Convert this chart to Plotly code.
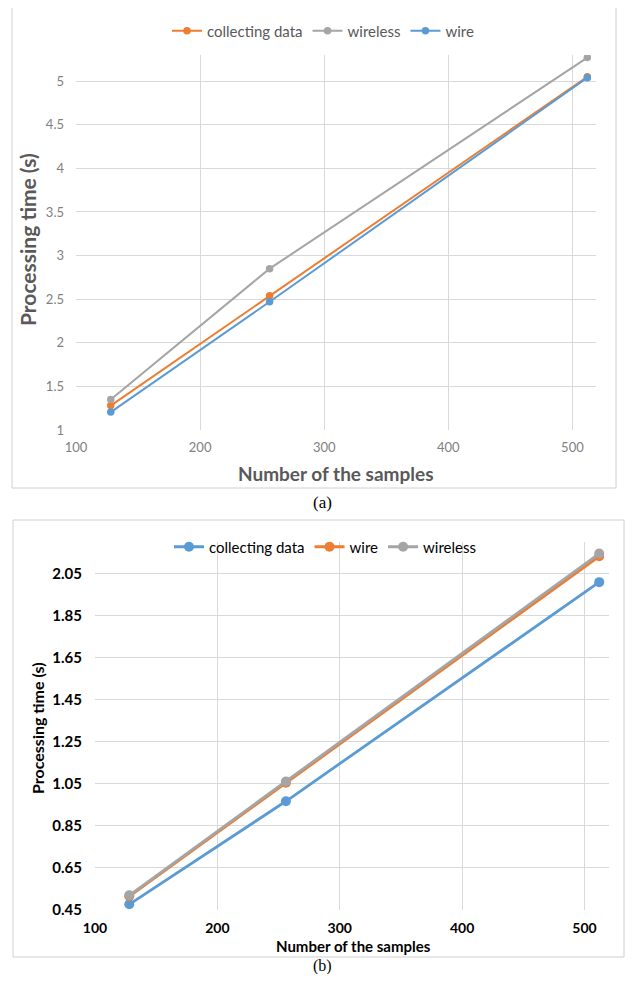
import plotly.graph_objects as go

# The page body keeps the browser's default 8px margin, so the figure is
# sized to fit the 633x982 window inside it; positions below are window pixels.
WIN_W, WIN_H = 633, 982
OFF = 8
FW, FH = WIN_W - 2 * OFF, WIN_H - 2 * OFF

# ---------------- data ----------------
samples = [128, 256, 512]

# chart (a)
a_collecting = [1.28, 2.54, 5.05]
a_wireless = [1.35, 2.85, 5.27]
a_wire = [1.205, 2.47, 5.04]

# chart (b)
b_collecting = [0.477, 0.967, 2.009]
b_wire = [0.515, 1.055, 2.132]
b_wireless = [0.52, 1.061, 2.145]

a_yticks = [1, 1.5, 2, 2.5, 3, 3.5, 4, 4.5, 5]
a_ytick_text = ["1", "1.5", "2", "2.5", "3", "3.5", "4", "4.5", "5"]
b_yticks = [0.45, 0.65, 0.85, 1.05, 1.25, 1.45, 1.65, 1.85, 2.05]
b_ytick_text = ["0.45", "0.65", "0.85", "1.05", "1.25", "1.45", "1.65", "1.85", "2.05"]
xticks = [100, 200, 300, 400, 500]

ORANGE = "#ED7D31"
GRAY = "#A5A5A5"
BLUE = "#5B9BD5"
FONT = "Lato"


def px_x(p):
    return (p - OFF) / FW


def px_y(p):
    return 1 - (p - OFF) / FH


fig = go.Figure()

# chart (a) traces
for name, vals, col in [("collecting data", a_collecting, ORANGE),
                        ("wireless", a_wireless, GRAY),
                        ("wire", a_wire, BLUE)]:
    fig.add_trace(go.Scatter(x=samples, y=vals, name=name, mode="lines+markers",
                             line=dict(color=col, width=2),
                             marker=dict(color=col, size=7.5),
                             xaxis="x", yaxis="y", legend="legend"))

# chart (b) traces
for name, vals, col in [("collecting data", b_collecting, BLUE),
                        ("wire", b_wire, ORANGE),
                        ("wireless", b_wireless, GRAY)]:
    fig.add_trace(go.Scatter(x=samples, y=vals, name=name, mode="lines+markers",
                             line=dict(color=col, width=2.8),
                             marker=dict(color=col, size=10),
                             xaxis="x2", yaxis="y2", legend="legend2"))

grid = "#D9D9D9"

fig.update_layout(
    width=FW, height=FH,
    margin=dict(l=0, r=0, t=0, b=0, pad=0, autoexpand=False),
    paper_bgcolor="white", plot_bgcolor="white",
    showlegend=True,
    xaxis=dict(domain=[px_x(76), px_x(596)], range=[100, 519], tickvals=xticks,
               showgrid=True, gridcolor=grid, gridwidth=1, zeroline=False,
               showline=False, ticks="", ticklabelstandoff=8, automargin=False,
               tickfont=dict(family=FONT, size=13, color="#7F7F7F"), anchor="y"),
    yaxis=dict(domain=[px_y(430), px_y(55)], range=[1, 5.3], tickvals=a_yticks,
               ticktext=a_ytick_text, showgrid=True, gridcolor=grid, gridwidth=1,
               zeroline=False, showline=False, ticks="", ticklabelstandoff=11,
               automargin=False,
               tickfont=dict(family=FONT, size=13, color="#7F7F7F"), anchor="x"),
    xaxis2=dict(domain=[px_x(95), px_x(609)], range=[100, 520], tickvals=xticks,
                showgrid=True, gridcolor=grid, gridwidth=1, zeroline=False,
                showline=False, ticks="", ticklabelstandoff=8, automargin=False,
                tickfont=dict(family=FONT, size=14, color="#000000", weight="bold"),
                anchor="y2"),
    yaxis2=dict(domain=[px_y(910), px_y(542)], range=[0.45, 2.2], tickvals=b_yticks,
                ticktext=b_ytick_text, showgrid=True, gridcolor=grid, gridwidth=1,
                zeroline=False, showline=False, ticks="", ticklabelstandoff=12,
                automargin=False,
                tickfont=dict(family=FONT, size=15, color="#000000", weight="bold"),
                anchor="x2"),
    legend=dict(orientation="h", x=px_x(323), y=px_y(31), xanchor="center",
                yanchor="middle", itemwidth=30, bgcolor="rgba(0,0,0,0)",
                font=dict(family=FONT, size=15, color="#595959")),
    legend2=dict(orientation="h", x=px_x(325), y=px_y(547), xanchor="center",
                 yanchor="middle", itemwidth=30, bgcolor="rgba(0,0,0,0)",
                 font=dict(family=FONT, size=15, color="#000000")),
)

# borders around each chart
fig.add_shape(type="rect", xref="paper", yref="paper",
              x0=px_x(12), x1=px_x(616), y0=px_y(488), y1=px_y(5),
              line=dict(color="#D0D0D0", width=1))
fig.add_shape(type="rect", xref="paper", yref="paper",
              x0=px_x(13), x1=px_x(624), y0=px_y(957), y1=px_y(520),
              line=dict(color="#D0D0D0", width=1))


def label(text, x, y, size, color, angle=0, family=FONT, bold=True):
    fig.add_annotation(text=text, xref="paper", yref="paper",
                       x=px_x(x), y=px_y(y), xanchor="center", yanchor="middle",
                       showarrow=False, textangle=angle,
                       font=dict(family=family, size=size, color=color,
                                 weight="bold" if bold else "normal"))


# axis titles
label("Number of the samples", 336, 473, 19, "#595959")
label("Processing time (s)", 28, 240, 21, "#595959", angle=-90)
label("Number of the samples", 353, 946, 15, "#000000")
label("Processing time (s)", 37, 728, 16, "#000000", angle=-90)

# captions
label("(a)", 322, 502, 17, "#000000", family="Liberation Serif", bold=False)
label("(b)", 322, 966, 16, "#000000", family="Liberation Serif", bold=False)

fig.write_html("out.html")
